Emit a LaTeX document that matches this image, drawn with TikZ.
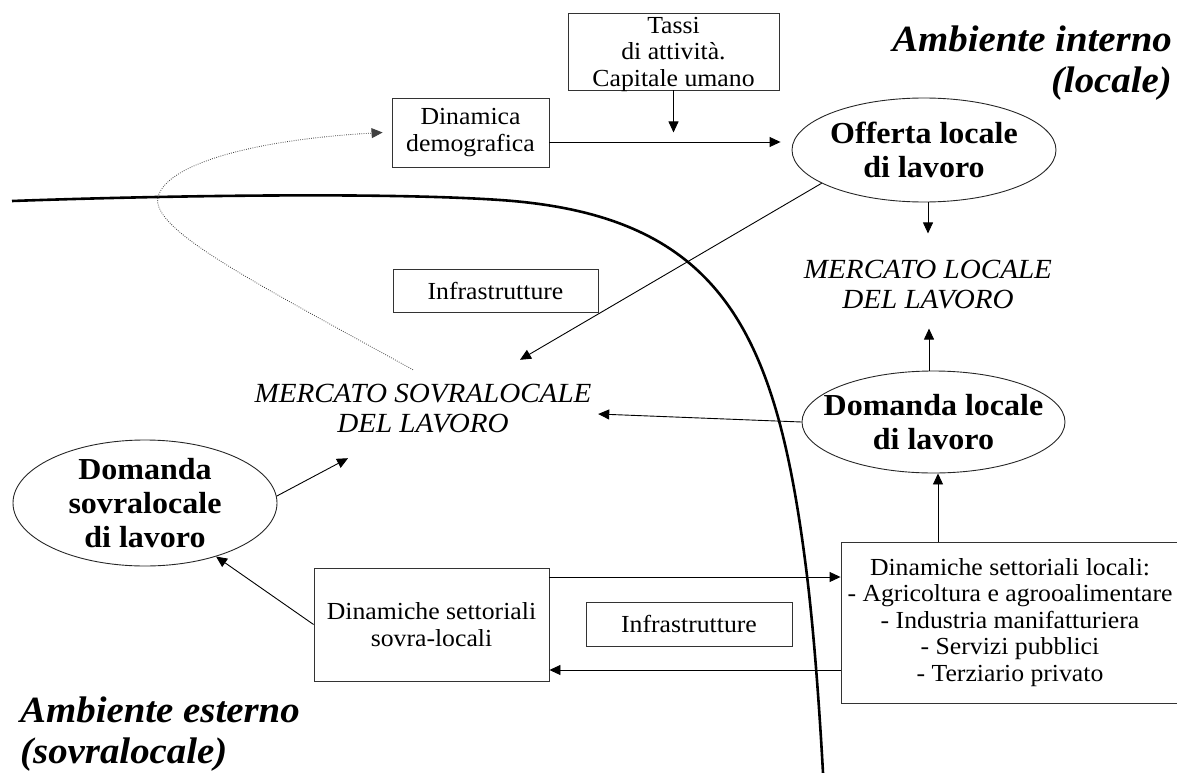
\documentclass[tikz,border=0pt]{standalone}
\usepackage{fontspec}
\setmainfont{Liberation Serif}[FakeStretch=1.05]
\usetikzlibrary{arrows.meta,shapes.geometric}
\newcommand\regfont{\fontsize{24.5}{26.5}\selectfont}
\newcommand\bfell{\fontsize{30.5}{34}\selectfont\bfseries}
\newcommand\itmerc{\fontsize{27.7}{30}\selectfont\itshape}
\newcommand\ambfont{\fontsize{37}{41}\selectfont\bfseries\itshape}
\begin{document}
\begin{tikzpicture}[x=1pt,y=-1pt,
  box/.style={draw=black!80, line width=0.9pt, inner sep=0pt, align=center, font=\regfont},
  boxtext/.style={inner sep=0pt, align=center, font=\regfont},
  ell/.style={draw=black!85, ellipse, line width=0.9pt, inner sep=0pt},
  elltext/.style={font=\bfell, align=center, inner sep=0pt},
  mercato/.style={font=\itmerc, align=center, inner sep=0pt},
  amb/.style={font=\ambfont, inner sep=0pt},
  arr/.style={-{Triangle[length=11pt,width=10pt]}, line width=0.9pt},
  dotline/.style={-{Triangle[length=11pt,width=10pt]}, line width=0.8pt, black!75, dash pattern=on 0.8pt off 1.4pt},
  border/.style={line width=2.6pt}]
\useasboundingbox (0,0) rectangle (1177,773);

% boundary between internal and external environment
\draw[border] (12,201) .. controls (150,196) and (380,191.8) .. (500,200)
  .. controls (720,215) and (775,330) .. (805,560)
  .. controls (813,620) and (819,700) .. (823,773);

% nodes
\node[box, minimum width=211pt, minimum height=77pt] (tassi) at (673.5,51.5) {};
\node[boxtext] (tassiT) at ([yshift=-2.5pt]tassi.center) {Tassi\\di attività.\\Capitale umano};
\node[box, minimum width=157pt, minimum height=69pt] (dinamica) at (470.5,132.5) {Dinamica\\demografica};
\node[ell, minimum width=264pt, minimum height=104pt] (offerta) at (924,150) {};
\node[elltext] (offertaT) at (offerta) {Offerta locale\\di lavoro};
\node[mercato] (mercatoL) at (928,285) {MERCATO LOCALE\\DEL LAVORO};
\node[ell, minimum width=263pt, minimum height=102pt] (domL) at (933.5,422) {};
\node[elltext] (domLT) at (domL) {Domanda locale\\di lavoro};
\node[box, minimum width=338pt, minimum height=161pt] (locali) at (1010,622.5) {Dinamiche settoriali locali:\\- Agricoltura e agrooalimentare\\- Industria manifatturiera\\- Servizi pubblici\\- Terziario privato};
\node[box, minimum width=235pt, minimum height=113pt] (sovra) at (431.5,624.5) {Dinamiche settoriali\\sovra-locali};
\node[box, minimum width=205pt, minimum height=43pt] (infra1) at (495.5,290.5) {Infrastrutture};
\node[box, minimum width=206pt, minimum height=44pt] (infra2) at (689,624) {Infrastrutture};
\node[mercato, minimum width=350pt, minimum height=98pt] (mercatoS) at (423,409) {MERCATO SOVRALOCALE\\DEL LAVORO};
\node[ell, minimum width=264pt, minimum height=126pt] (domS) at (145,503) {};
\node[elltext] (domST) at (domS) {Domanda\\sovralocale\\di lavoro};
\node[amb, anchor=east, align=right] (ambI) at (1172,63) {Ambiente interno\\(locale)};
\node[amb, anchor=west, align=left] (ambE) at (20,734) {Ambiente esterno\\(sovralocale)};

% connectors
\draw[arr] (tassi.south) -- ++(0,42);
\draw[arr, shorten >=11pt] ([yshift=-9.5pt]dinamica.east) -- ([yshift=-9.5pt]dinamica.east -| offerta.west);
\draw[arr] ([xshift=4pt]offerta.south) -- ++(0,31);
\draw[arr] ([xshift=-4.5pt]domL.north) -- ++(0,-42);
\draw[arr] ([xshift=4.5pt]domL.south |- locali.north) -- ([xshift=4.5pt]domL.south);
\draw[arr] ([yshift=47.5pt]sovra.east) -- ([yshift=47.5pt]sovra.east -| locali.west);
\draw[arr] ([yshift=-45.5pt]sovra.east -| locali.west) -- ([yshift=-45.5pt]sovra.east);
\draw[arr] (sovra.west) -- (domS.-37);
\draw[arr] (domS.3) -- ([xshift=-75pt]mercatoS.south);
\draw[arr] (offerta.-162) -- ([xshift=97pt]mercatoS.north);
\draw[arr] (domL.west) -- ([yshift=-5pt]mercatoS.east);
\draw[dotline] ([xshift=-10pt,yshift=-10pt]mercatoS.north) .. controls (260,285) and (150,230) .. (158,197) .. controls (166,165) and (250,140) .. ([xshift=-9pt]dinamica.west);
\end{tikzpicture}
\end{document}
